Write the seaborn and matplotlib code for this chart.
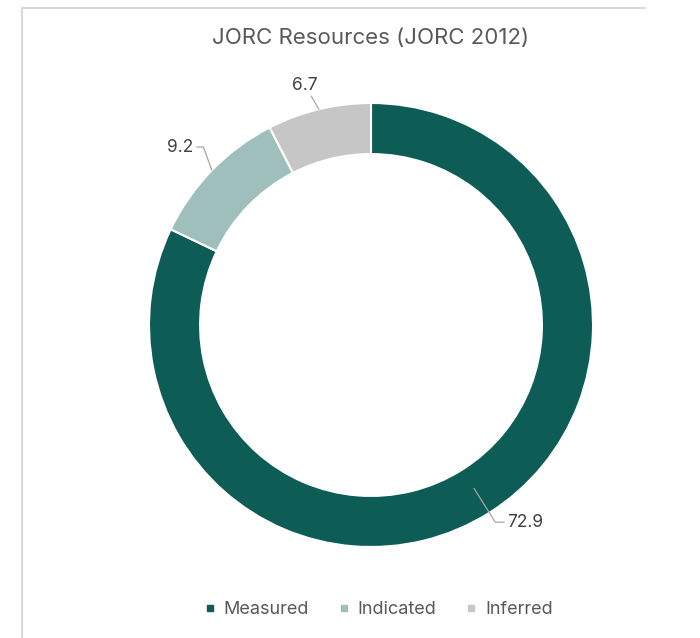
import numpy as np
import matplotlib
matplotlib.use("Agg")
import matplotlib.pyplot as plt
from matplotlib.lines import Line2D
import seaborn as sns

# Resource categories and tonnages
categories = ["Measured", "Indicated", "Inferred"]
values = [72.9, 9.2, 6.7]
value_labels = ["72.9", "9.2", "6.7"]
title = "JORC Resources (JORC 2012)"

sns.set_theme(style="white")
plt.rcParams["font.family"] = ["Inter", "DejaVu Sans"]

colors = sns.color_palette(["#0d5c55", "#9fbfbd", "#c6c6c6"])

W, H = 700, 638
fig = plt.figure(figsize=(W / 100, H / 100), dpi=100)
fig.patch.set_facecolor("white")

# donut axes: centre and radius in pixels
cx, cy, R = 371, 325, 222
ax = fig.add_axes([(cx - R) / W, (H - cy - R) / H, 2 * R / W, 2 * R / H])

wedges, _ = ax.pie(
    values,
    colors=colors,
    startangle=90,
    counterclock=False,
    radius=1.0,
    wedgeprops=dict(width=0.23, edgecolor="white", linewidth=1.5),
)
ax.set_xlim(-1, 1)
ax.set_ylim(-1, 1)
ax.set_aspect("auto")
ax.axis("off")

# leader lines and value labels
leader = dict(color="#a6a6a6", lw=0.9, clip_on=False)
txt = dict(fontsize=12.5, color="#404040", clip_on=False)
label_style = {
    # r_start, r_end, knee x-shift, horizontal tick, text placement
    "Measured": (0.87, 1.05, 0.0, 0.04, "right"),
    "Indicated": (1.0, 1.15, 0.07, -0.03, "left"),
    "Inferred": (1.0, 1.06, 0.0, 0.0, "top"),
}
for w, cat, lab in zip(wedges, categories, value_labels):
    ang = np.deg2rad((w.theta1 + w.theta2) / 2)
    r0, r1, shift, dx, side = label_style[cat]
    x0, y0 = r0 * np.cos(ang), r0 * np.sin(ang)
    x1, y1 = r1 * np.cos(ang) + shift, r1 * np.sin(ang)
    if side == "top":
        ax.plot([x0, x1 - 0.02], [y0, y1], **leader)
        ax.text(x1 - 0.05, y1 + 0.01, lab, ha="center", va="bottom", **txt)
    else:
        x2 = x1 + dx
        ax.plot([x0, x1, x2], [y0, y1, y1], **leader)
        if side == "right":
            ax.text(x2 + 0.015, y1, lab, ha="left", va="center", **txt)
        else:
            ax.text(x2 - 0.015, y1, lab, ha="right", va="center", **txt)

fig.text(371 / W, 1 - 38 / H, title, ha="center", va="center",
         fontsize=16, color="#595959")

handles = [Line2D([], [], marker="s", linestyle="none", markersize=5,
                  markerfacecolor=c, markeredgecolor=c) for c in colors]
fig.legend(handles, categories, loc="center", bbox_to_anchor=(378 / W, 1 - 610 / H),
           ncol=3, frameon=False, fontsize=13, labelcolor="#595959",
           handletextpad=0.4, columnspacing=1.6, handlelength=0.7)

# light chart border on the left and top
border = dict(color="#d9d9d9", lw=1.5)
fig.add_artist(Line2D([22 / W, 22 / W], [0, 1 - 8 / H], transform=fig.transFigure, **border))
fig.add_artist(Line2D([22 / W, 645 / W], [1 - 8 / H, 1 - 8 / H], transform=fig.transFigure, **border))

fig.savefig("out.png", dpi=100, facecolor="white")
